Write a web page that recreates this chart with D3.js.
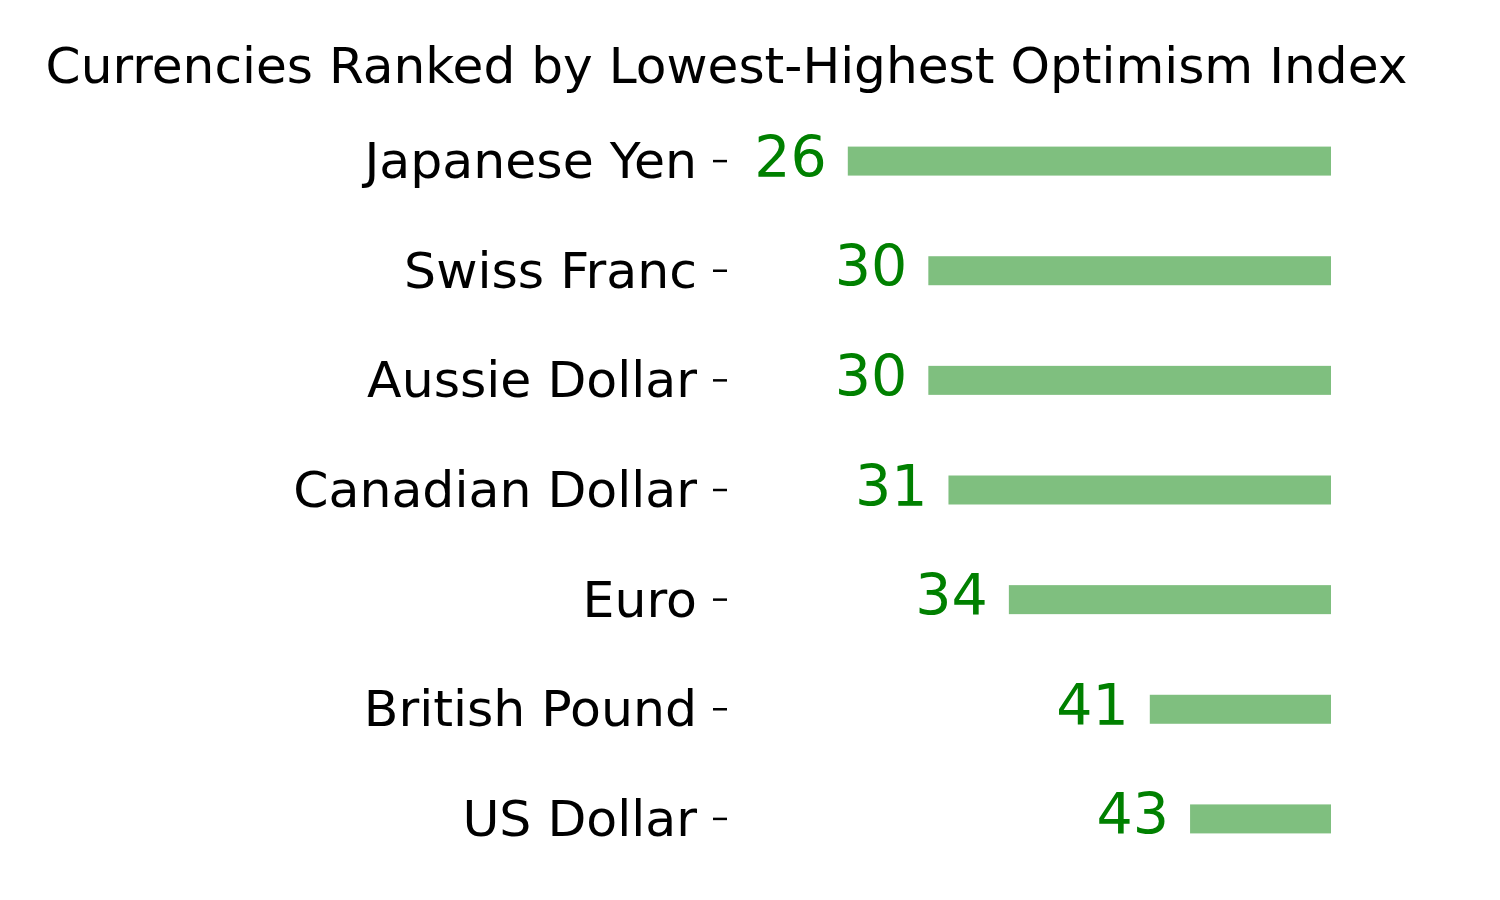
<!DOCTYPE html>
<html><head><meta charset="utf-8">
<script src="https://cdn.jsdelivr.net/npm/d3@7"></script>
<style>body{margin:0;background:#fff}</style>
</head><body>
<script>
const categories = ["Japanese Yen","Swiss Franc","Aussie Dollar","Canadian Dollar","Euro","British Pound","US Dollar"];
const values = [26,30,30,31,34,41,43];
const barEnd = 50;
const xDomain = [20,50];
const title = "Currencies Ranked by Lowest-Highest Optimism Index";

const W=1500,H=900;
const svg=d3.select("body").append("svg").attr("width",W).attr("height",H)
  .style("font-family","DejaVu Sans");
const x=d3.scaleLinear().domain(xDomain).range([727,1331]);
const y=d3.scaleBand().domain(categories).range([106,874]).paddingInner(0.735).paddingOuter(0.37);
const bh=29;
const yc=c=>y(c)+y.bandwidth()/2;

svg.selectAll("rect.bar").data(values).enter().append("rect")
  .attr("x",d=>x(d)).attr("width",d=>x(barEnd)-x(d))
  .attr("y",(d,i)=>yc(categories[i])-bh/2).attr("height",bh)
  .attr("fill","#008000").attr("fill-opacity",0.5);

svg.selectAll("text.val").data(values).enter().append("text")
  .attr("x",d=>x(d)-21).attr("y",(d,i)=>yc(categories[i])+15.5)
  .attr("text-anchor","end").attr("fill","#008000").attr("font-size",57).text(d=>d);

const yAxis=d3.axisLeft(y).tickSize(14).tickPadding(16);
const g=svg.append("g").attr("transform","translate(727,0)").call(yAxis);
g.select(".domain").remove();
g.selectAll(".tick line").attr("stroke","#000").attr("stroke-width",2.5);
g.selectAll(".tick text").attr("font-size",50.5).attr("font-family","DejaVu Sans").attr("fill","#000").attr("dy",null).attr("y",17);

svg.append("text").attr("x",726.5).attr("y",83).attr("text-anchor","middle")
  .attr("font-size",50.2).attr("fill","#000").text(title);
</script>
</body></html>
